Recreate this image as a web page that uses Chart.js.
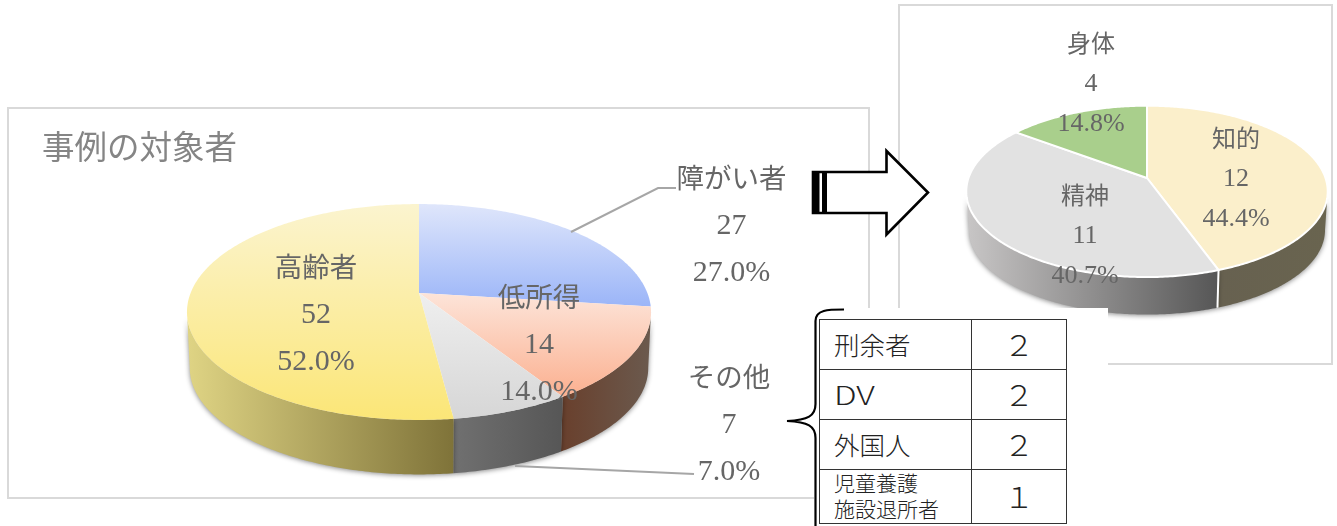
<!DOCTYPE html>
<html lang="ja"><head><meta charset="utf-8">
<style>
html,body{margin:0;padding:0;background:#fff;width:1337px;height:526px;overflow:hidden}
.frame{position:absolute;box-sizing:border-box;border:2.5px solid #d9d9d9;background:#fff}
canvas{position:absolute}
#cover{position:absolute;left:814px;top:308px;width:294px;height:218px;background:#fff}
#tbl{position:absolute;left:819px;top:319px;border-collapse:collapse;table-layout:fixed;font-family:"Noto Sans CJK JP",sans-serif;font-weight:300;color:#222;background:#fff}
#tbl td{border:1.5px solid #333;padding:0 0 2px 0;box-sizing:border-box}
#tbl td.n{padding-left:14px;font-size:25.5px;line-height:1}
#tbl td.n.small{font-size:21px;line-height:25.5px}
#tbl td.v{text-align:center;font-size:28px;line-height:1;padding-left:0}
#tbl span.wide{display:inline-block;transform:scaleX(1.32);transform-origin:left center}
#tbl td.v span.wide{transform:scaleX(1.1);transform-origin:center center}
svg{position:absolute;left:0;top:0}
</style></head><body>
<div class="frame" style="left:7px;top:107px;width:863px;height:392px"></div>
<div class="frame" style="left:898px;top:4px;width:435px;height:361px"></div>
<canvas id="c1" width="860" height="390" style="left:8px;top:108px"></canvas>
<canvas id="c2" width="433" height="358" style="left:899px;top:5px"></canvas>
<div id="cover"></div>
<svg width="1337" height="526" id="ov">
  <path d="M844 309.5 C828 309.5 815.5 309.5 815.5 321 L815.5 404 C815.5 416 808 420 787 421 C808 422 815.5 426 815.5 438 L815.5 526" fill="none" stroke="#000" stroke-width="2.2"/>
  <path d="M813 172 H886.5 V151 L928 192.5 L886.5 234.5 V213 H813 Z" fill="#fff" stroke="#000" stroke-width="2.6"/>
  <rect x="812" y="171.5" width="7.5" height="42" fill="#000"/>
  <rect x="822" y="171.5" width="5" height="42" fill="#000"/>
</svg>
<table id="tbl"></table>
<script src="https://cdn.jsdelivr.net/npm/chart.js@4/dist/chart.umd.min.js"></script>
<script>
const mainTitle = "事例の対象者";
const mainCategories = ["障がい者","低所得","その他","高齢者"];
const mainValues = [27,14,7,52];
const subCategories = ["知的","精神","身体"];
const subValues = [12,11,4];
const tableNames = [["刑余者"],["DV"],["外国人"],["児童養護","施設退所者"]];
const tableCounts = ["２","２","２","１"];

const mainTop = [["#dfe6fb","#9bb5f8"],["#fde4d9","#fbb090"],["#efefef","#d6d6d6"],["#fbf4cf","#fbe677"]];
const mainWall = [["#555","#555"],["#69402d","#6b5a4e"],["#707070","#565656"],["#dfd484","#7f7339"]];
const subTop = [["#fbefcb","#fbefcb"],["#e2e2e2","#e2e2e2"],["#a9cf8c","#a9cf8c"]];
const subWall = [["#676150","#69644f"],["#c8c6c6","#565656"],["#888","#888"]];

const SERIF = '"Liberation Serif","Noto Sans CJK JP",serif';

const pie3d = {
  id:'pie3d',
  beforeDatasetsDraw(chart,args,o){
    const ctx=chart.ctx, els=chart.getDatasetMeta(0).data;
    const pt=(th,down,sc)=>{
      const u=Math.sin(th), v=-Math.cos(th), w=1+o.k*v;
      return [o.px+o.A*sc*u/w, o.py+down+o.B*sc*v/w];
    };
    const trace=(a,b,down,sc,first)=>{
      const n=Math.max(2,Math.ceil(Math.abs(b-a)/0.012));
      for(let i=0;i<=n;i++){
        const p=pt(a+(b-a)*i/n,down,sc);
        if(i===0&&first) ctx.moveTo(p[0],p[1]); else ctx.lineTo(p[0],p[1]);
      }
    };
    const ths=Math.acos(o.k);
    els.forEach((el,i)=>{
      const s=el.startAngle+Math.PI/2, e=el.endAngle+Math.PI/2;
      const a=Math.max(s,ths), b=Math.min(e,2*Math.PI-ths);
      if(b<=a) return;
      const p1=pt(a,0,1), p2=pt(b,0,1);
      const x0=Math.min(p1[0],p2[0]), x1=Math.max(p1[0],p2[0]);
      const g=ctx.createLinearGradient(x0,0,x1,0);
      g.addColorStop(0,o.wall[i][0]); g.addColorStop(1,o.wall[i][1]);
      ctx.save();
      if(o.shadow){ctx.shadowColor='rgba(0,0,0,.45)';ctx.shadowBlur=5;ctx.shadowOffsetY=1;}
      ctx.beginPath(); trace(a,b,0,1,true); trace(b,a,o.depth,o.bottomScale,false); ctx.closePath();
      ctx.fillStyle=g; ctx.fill();
      ctx.restore();
      if(o.border){
        ctx.strokeStyle='#fff';ctx.lineWidth=o.border;
        ctx.beginPath();
        if(s>ths){const q=pt(s,0,1),r=pt(s,o.depth,o.bottomScale);ctx.moveTo(q[0],q[1]);ctx.lineTo(r[0],r[1]);}
        ctx.stroke();
      }
    });
    els.forEach((el,i)=>{
      const s=el.startAngle+Math.PI/2, e=el.endAngle+Math.PI/2;
      let y0=o.py,y1=o.py;
      for(let t=0;t<=40;t++){const y=pt(s+(e-s)*t/40,0,1)[1];y0=Math.min(y0,y);y1=Math.max(y1,y);}
      const g=ctx.createLinearGradient(0,y0,0,y1);
      g.addColorStop(0,o.top[i][0]); g.addColorStop(1,o.top[i][1]);
      ctx.beginPath(); ctx.moveTo(o.px,o.py); trace(s,e,0,1,false); ctx.closePath();
      ctx.fillStyle=g; ctx.fill();
      if(o.border){ctx.strokeStyle='#fff';ctx.lineWidth=o.border;ctx.lineJoin='round';ctx.stroke();}
    });
    return false;
  },
  afterDraw(chart,args,o){
    const ctx=chart.ctx, labels=chart.data.labels, vals=chart.data.datasets[0].data;
    const total=vals.reduce((a,b)=>a+b,0);
    if(o.leaders){
      ctx.strokeStyle='#a6a6a6';ctx.lineWidth=2;
      o.leaders.forEach(l=>{ctx.beginPath();l.forEach((p,j)=>j?ctx.lineTo(p[0],p[1]):ctx.moveTo(p[0],p[1]));ctx.stroke();});
    }
    ctx.textAlign='center';ctx.textBaseline='middle';ctx.fillStyle=o.textColor;
    labels.forEach((lab,i)=>{
      const p=o.labelPos[i];
      ctx.font=o.catSize+'px '+SERIF; ctx.fillText(lab,p[0],p[1]+2);
      ctx.font=o.numSize+'px '+SERIF;
      ctx.fillText(String(vals[i]),p[0],p[1]+o.lead);
      ctx.fillText((vals[i]/total*100).toFixed(1)+'%',p[0],p[1]+o.lead*2);
    });
  }
};
Chart.register(pie3d);

new Chart(document.getElementById('c1'),{
  type:'pie',
  data:{labels:mainCategories,datasets:[{data:mainValues,backgroundColor:mainTop.map(c=>c[1])}]},
  options:{responsive:false,animation:false,
    layout:{padding:{left:34,top:23}},
    plugins:{legend:{display:false},tooltip:{enabled:false},
      title:{display:true,text:mainTitle,align:'start',color:'#858585',
        font:{family:SERIF,size:32.5,weight:'normal'},padding:0},
      pie3d:{px:411,py:185,A:228.4,B:104.6,k:-0.176,depth:56,bottomScale:0.988,
        top:mainTop,wall:mainWall,shadow:true,border:0,
        textColor:'#666',catSize:27.5,numSize:30,lead:47,
        labelPos:[[723.5,71],[531,190],[721,270],[308,160]],
        leaders:[[[563,124],[650,80],[668,80]],[[507,358],[686,366]]]}
    }}
});
new Chart(document.getElementById('c2'),{
  type:'pie',
  data:{labels:subCategories,datasets:[{data:subValues,backgroundColor:subTop.map(c=>c[1])}]},
  options:{responsive:false,animation:false,
    plugins:{legend:{display:false},tooltip:{enabled:false},
      pie3d:{px:248,py:173,A:178.5,B:83.6,k:-0.156,depth:39,bottomScale:0.985,
        top:subTop,wall:subWall,shadow:true,border:2,
        textColor:'#666',catSize:24,numSize:26,lead:40,
        labelPos:[[337,134],[186,191],[192,39]]}
    }}
});

const rowH=[50,50,50,54], colW=[152,95];
const tbl=document.getElementById('tbl');
tbl.style.width=(colW[0]+colW[1])+'px';
const cg=document.createElement('colgroup');
colW.forEach(w=>{const c=document.createElement('col');c.style.width=w+'px';cg.appendChild(c);});
tbl.appendChild(cg);
tableNames.forEach((n,i)=>{
  const tr=document.createElement('tr');tr.style.height=rowH[i]+'px';
  const a=document.createElement('td');a.className='n'+(n.length>1?' small':'');
  n.forEach((line,j)=>{
    if(j) a.appendChild(document.createElement('br'));
    if(/^[A-Za-z]+$/.test(line)){const s=document.createElement('span');s.className='wide';s.textContent=line;a.appendChild(s);}
    else a.appendChild(document.createTextNode(line));
  });
  const b=document.createElement('td');b.className='v';
  const s=document.createElement('span');s.className='wide';s.textContent=tableCounts[i];b.appendChild(s);
  tr.append(a,b);tbl.appendChild(tr);
});
</script>
</body></html>
